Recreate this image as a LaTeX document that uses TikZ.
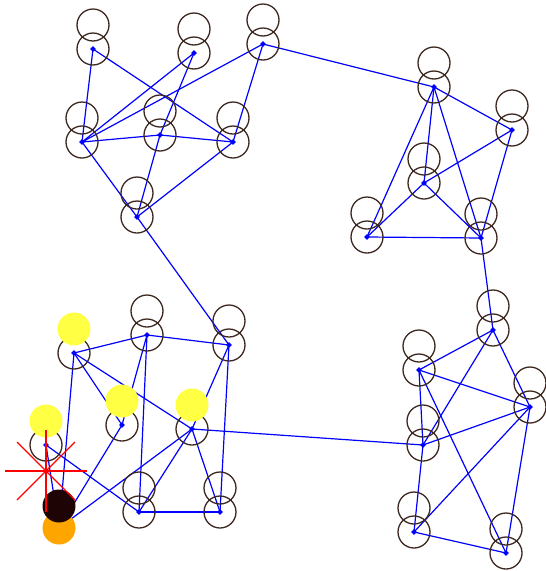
\documentclass[tikz,border=0pt]{standalone}
\usepackage{tikz}
\usetikzlibrary{positioning,calc,shapes.geometric}
\definecolor{ringbrown}{RGB}{60,40,32}
\definecolor{linkblue}{RGB}{0,0,255}
\definecolor{lampyellow}{RGB}{255,255,68}
\definecolor{lamporange}{RGB}{255,165,0}
\definecolor{sinkdark}{RGB}{30,4,4}
\definecolor{hitred}{RGB}{255,0,0}

\begin{document}
\begin{tikzpicture}[x=1pt,y=-1pt,
  site/.style={diamond,fill=linkblue,inner sep=0pt,minimum size=6pt},
  link/.style={draw=linkblue,line width=1.2pt},
  ring/.style={draw=ringbrown,line width=1.3pt},
  lamp/.style={fill=#1},
  hitline/.style={draw=hitred,line width=1.3pt}]
\useasboundingbox (0,0) rectangle (546,571);
\foreach \n/\x/\y in {a1/93/49,a2/194/53,a3/263/44,a4/82/142,a5/160/135,a6/233/142,a7/137/217,
  b1/434/87,b2/512/130,b3/424/183,b4/367/237,b5/481/238,
  c1/74/353,c2/147/335,c3/229/345,c4/122/425,c5/192/429,c6/46/445,c7/139/512,c8/220/512,c9/59/528,
  d1/493/330,d2/419/370,d3/530/407,d4/423/445,d5/414/532,d6/506/553}
  \node[site] (\n) at (\x,\y) {};
\foreach \u/\v in {a1/a4,a1/a6,a2/a4,a2/a5,a3/a4,a3/a6,a4/a5,a5/a6,a4/a7,a5/a7,a6/a7,a3/b1,a7/c3,
  b1/b2,b1/b3,b1/b4,b1/b5,b2/b3,b2/b5,b3/b4,b3/b5,b4/b5,b5/d1,
  c1/c2,c2/c3,c1/c4,c1/c5,c1/c9,c2/c4,c2/c7,c3/c5,c3/c8,c4/c9,c5/c9,c5/c7,c5/c8,c6/c7,c6/c9,c7/c8,c5/d4,
  d1/d2,d1/d3,d1/d4,d2/d3,d2/d4,d2/d6,d3/d4,d3/d5,d3/d6,d4/d5,d5/d6}
  \draw[link] (\u.center) -- (\v.center);
\foreach \n in {a1,a2,a3,a4,a5,a6,a7,b1,b2,b3,b4,b5,c2,c3,c7,c8,d1,d2,d3,d4,d5,d6}
  {\draw[ring] (\n.center) circle (16pt); \draw[ring] ([yshift=24pt]\n.center) circle (16pt);}
\foreach \n in {c1,c4,c5,c6}
  {\draw[ring] (\n.center) circle (16pt); \fill[lamp=lampyellow] ([yshift=24pt]\n.center) circle (16.5pt);}
\fill[lamp=lamporange] (c9.center) circle (16.5pt);
\fill[lamp=sinkdark] ([yshift=22pt]c9.center) circle (16.5pt);
\coordinate (hit) at (46,471);
\draw[hitline] ([xshift=-41pt]hit) -- ([xshift=41pt]hit);
\draw[hitline] ([yshift=-41pt]hit) -- ([yshift=41pt]hit);
\draw[hitline] ([shift={(-29pt,-29pt)}]hit) -- ([shift={(29pt,29pt)}]hit);
\draw[hitline] ([shift={(-29pt,29pt)}]hit) -- ([shift={(29pt,-29pt)}]hit);
\end{tikzpicture}
\end{document}
